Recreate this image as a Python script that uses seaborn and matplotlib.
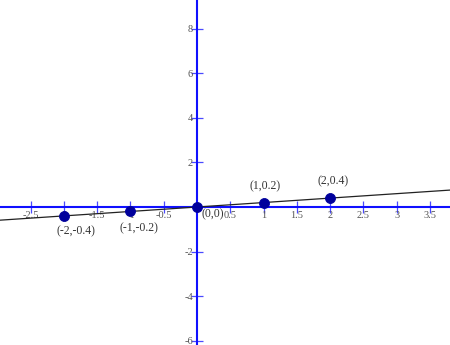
import matplotlib
matplotlib.use("Agg")
import matplotlib.pyplot as plt
import seaborn as sns
import pandas as pd

# data
point_x = [-2, -1, 0, 1, 2]
point_y = [-0.4, -0.2, 0, 0.2, 0.4]
point_labels = ["(-2,-0.4)", "(-1,-0.2)", "(0,0)", "(1,0.2)", "(2,0.4)"]
line_x = [-3.0, 4.0]
line_y = [-0.6, 0.8]
x_ticks = [-2.5, -2, -1.5, -1, -0.5, 0.5, 1, 1.5, 2, 2.5, 3, 3.5]
x_tick_labels = ["-2.5", "-2", "-1.5", "-1", "-0.5", "0.5", "1", "1.5", "2", "2.5", "3", "3.5"]
y_ticks = [-6, -4, -2, 2, 4, 6, 8]
y_tick_labels = ["-6", "-4", "-2", "2", "4", "6", "8"]

sns.set_style("white")
plt.rcParams['font.family'] = ['Liberation Serif', 'DejaVu Serif']

fig = plt.figure(figsize=(4.5, 3.45), dpi=100)
ax = fig.add_axes([0, 0, 1, 1])

line_df = pd.DataFrame({"x": line_x, "y": line_y})
pts_df = pd.DataFrame({"x": point_x, "y": point_y})

sns.lineplot(data=line_df, x="x", y="y", ax=ax, color="#222222", linewidth=0.9, zorder=3)
sns.scatterplot(data=pts_df, x="x", y="y", ax=ax, color="#00009c", s=52,
                edgecolor="#00009c", zorder=5)

ax.set_xlim(-2.96, 3.8)
ax.set_ylim(-6.2, 9.3)

for s in ["top", "right"]:
    ax.spines[s].set_visible(False)
for s in ["left", "bottom"]:
    ax.spines[s].set_position(("data", 0))
    ax.spines[s].set_color("#1010ff")
    ax.spines[s].set_linewidth(1.5)
    ax.spines[s].set_zorder(2)

ax.set_xticks(x_ticks)
ax.set_xticklabels(x_tick_labels)
ax.set_yticks(y_ticks)
ax.set_yticklabels(y_tick_labels)
ax.tick_params(axis="both", which="major", bottom=True, left=True,
               direction="inout", length=8, width=0.9,
               color="#4a4aff", labelsize=7.5, labelcolor="#555555")
ax.tick_params(axis="x", pad=-1)
ax.tick_params(axis="y", pad=-1)
ax.set_xlabel("")
ax.set_ylabel("")

offsets = [(9, -11), (6, -12), (11, -5), (1, 12), (2, 12)]
for xv, yv, lab, off in zip(point_x, point_y, point_labels, offsets):
    ax.annotate(lab, (xv, yv), xytext=off, textcoords="offset points",
                ha="center", va="center", fontsize=8.5, color="#333333", zorder=6)

fig.savefig("out.png", dpi=100)
